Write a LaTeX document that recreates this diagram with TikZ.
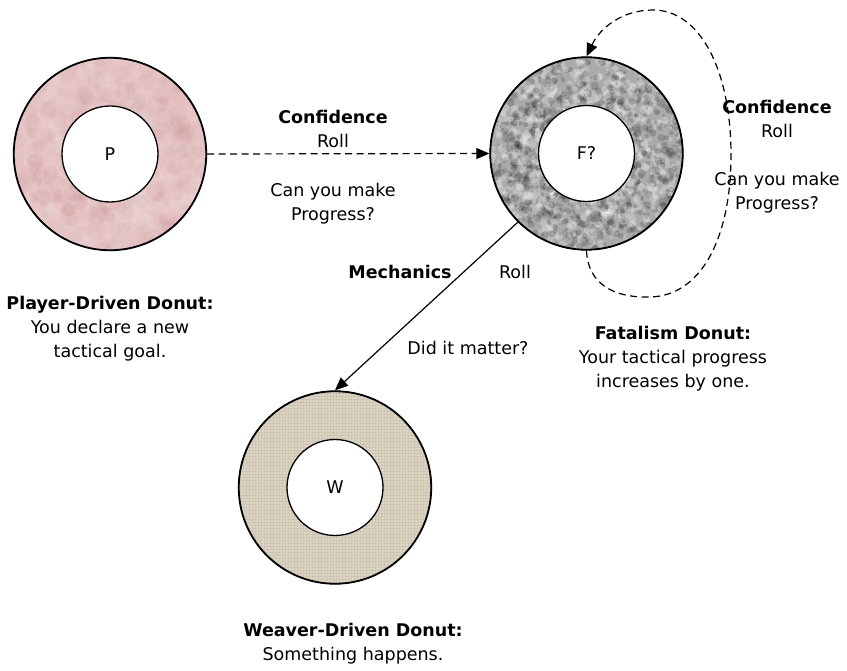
\documentclass[tikz,border=0pt]{standalone}
\usepackage{fontspec}
\setmainfont{DejaVu Sans}
\usetikzlibrary{arrows.meta}
\definecolor{pinkfill}{HTML}{E5C3C4}
\definecolor{grayfill}{HTML}{ABABAB}
\definecolor{beigefill}{HTML}{DCD3C1}
\begin{document}
\begin{tikzpicture}[x=1pt,y=-1pt,
  font=\fontsize{17.5}{24}\selectfont,
  outerring/.style={circle,draw=black,line width=1.3pt,minimum size=193pt,inner sep=0pt},
  innerring/.style={circle,draw=black,fill=white,line width=1.3pt,minimum size=96pt,inner sep=0pt},
  lbl/.style={align=center,inner sep=0pt},
  dashline/.style={dash pattern=on 7pt off 4.5pt},
  arrowtip/.style={-{Triangle[length=13pt,width=11pt]}},
  conn/.style={line width=1.2pt}]
\useasboundingbox (0,0) rectangle (847,671);
\fill[white] (0,0) rectangle (847,671);
% donut P
\node[outerring,fill=pinkfill] (P) at (110,154) {};
\begin{scope}
\clip (110,154) circle[radius=96pt];
\pgfmathsetseed{7}
\foreach \i in {1,...,200}{
  \pgfmathsetmacro\rr{40+57*rnd}\pgfmathsetmacro\aa{360*rnd}\pgfmathsetmacro\ss{4+6*rnd}
  \fill[shift={(110,154)},white,opacity=0.06] (\aa:\rr) circle[radius=\ss pt];
  \pgfmathsetmacro\rr{40+57*rnd}\pgfmathsetmacro\aa{360*rnd}
  \fill[shift={(110,154)},red!40!black,opacity=0.025] (\aa:\rr) circle[radius=\ss pt];
}
\end{scope}
\draw[line width=1.3pt] (P) circle[radius=96pt];
\node[innerring] (Pi) at (110,154) {P};
% donut F
\node[outerring,fill=grayfill] (F) at (586.5,153.5) {};
\begin{scope}
\clip (586.5,153.5) circle[radius=96pt];
\pgfmathsetseed{11}
\foreach \i in {1,...,700}{
  \pgfmathsetmacro\rr{40+57*rnd}\pgfmathsetmacro\aa{360*rnd}\pgfmathsetmacro\ss{1.5+3*rnd}
  \fill[shift={(586.5,153.5)},black,opacity=0.15] (\aa:\rr) circle[radius=\ss pt];
  \pgfmathsetmacro\rr{40+57*rnd}\pgfmathsetmacro\aa{360*rnd}\pgfmathsetmacro\ss{1.5+3*rnd}
  \fill[shift={(586.5,153.5)},white,opacity=0.22] (\aa:\rr) circle[radius=\ss pt];
}
\end{scope}
\draw[line width=1.3pt] (F) circle[radius=96pt];
\node[innerring] (Fi) at (586.5,153.5) {F?};
% donut W
\node[outerring,fill=beigefill] (W) at (335,487.5) {};
\begin{scope}
\clip (335,487.5) circle[radius=96pt];
\foreach \k in {0,3,...,200}{
  \draw[black,opacity=0.05,line width=0.8pt] (235,390+\k) -- (435,390+\k);
  \draw[black,opacity=0.04,line width=0.8pt] (237+\k,388) -- (237+\k,588);
}
\end{scope}
\draw[line width=1.3pt] (W) circle[radius=96pt];
\node[innerring] (Wi) at (335,487.5) {W};
% connectors
\draw[conn,dashline,arrowtip] (P.east) -- (F.west);
\draw[conn,arrowtip] (F.225) -- (W.north);
\draw[conn,dashline,arrowtip] (F.south) .. controls (588,285) and (615,298) .. (650,297)
  .. controls (700,296) and (731,240) .. (731,155)
  .. controls (731,70) and (700,10) .. (653,10)
  .. controls (622,10) and (600,28) .. (F.north);
% labels
\node[lbl] (l1) at (333,129) {\textbf{Confidence}\\Roll};
\node[lbl] (l2) at (333,204) {Can you make\\Progress?};
\node[lbl] (l3) at (777,119) {\textbf{Confidence}\\Roll};
\node[lbl] (l4) at (777,193) {Can you make\\Progress?};
\node[lbl] (l5) at (400,272) {\textbf{Mechanics}};
\node[lbl] (l6) at (515,272) {Roll};
\node[lbl] (l7) at (468,348) {Did it matter?};
\node[lbl] (d1) at (110,329) {\textbf{Player-Driven Donut:}\\You declare a new\\tactical goal.};
\node[lbl] (d2) at (673,359) {\textbf{Fatalism Donut:}\\Your tactical progress\\increases by one.};
\node[lbl] (d3) at (353,644) {\textbf{Weaver-Driven Donut:}\\Something happens.};
\end{tikzpicture}
\end{document}
